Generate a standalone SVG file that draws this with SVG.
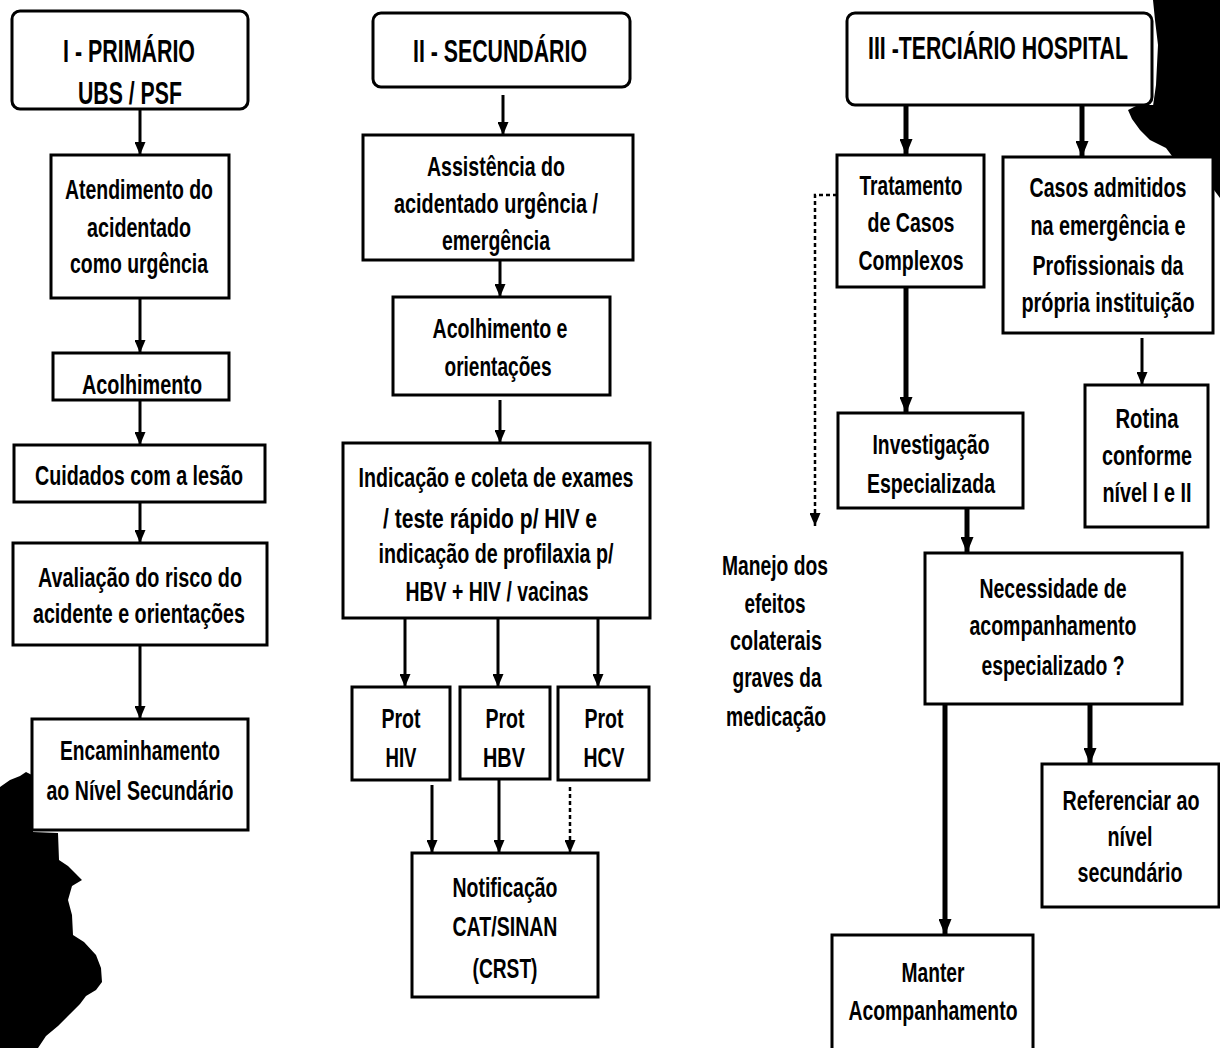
<svg xmlns="http://www.w3.org/2000/svg" width="1220" height="1048" viewBox="0 0 1220 1048">
<defs>
<style>
.box{fill:#fff;stroke:#000;stroke-width:3}
.t{font-family:'Liberation Sans Narrow','Liberation Sans',Arial,sans-serif;font-weight:bold;font-size:28px;text-anchor:middle;fill:#000}
.h{font-size:32px}
.ln{fill:none;stroke:#000;stroke-width:3;marker-end:url(#ah)}
.lt{fill:none;stroke:#000;stroke-width:5;marker-end:url(#ahb)}
.ld{fill:none;stroke:#000;stroke-width:2.5;stroke-dasharray:4 3;marker-end:url(#ah)}
.blob{fill:#000}
</style>
<marker id="ah" markerUnits="userSpaceOnUse" markerWidth="13" markerHeight="11" refX="13" refY="5.5" orient="auto"><path d="M0,0 L13,5.5 L0,11 Z" fill="#000"/></marker>
<marker id="ahb" markerUnits="userSpaceOnUse" markerWidth="16" markerHeight="13" refX="16" refY="6.5" orient="auto"><path d="M0,0 L16,6.5 L0,13 Z" fill="#000"/></marker>
</defs>
<rect width="1220" height="1048" fill="#fff"/>
<g id="scan-marks">
<path class="blob" d="M0,787 L10,780 L20,776 L26,772 L32,775 L33,832 L58,833 L59,860 L68,866 L76,874 L82,880 L72,886 L68,900 L72,915 L73,935 L84,942 L96,955 L101,968 L102,982 L96,990 L86,996 L80,1004 L70,1014 L58,1026 L46,1036 L38,1048 L0,1048 Z"/>
<path class="blob" d="M1153,0 L1220,0 L1220,106 L1153,106 L1156,85 L1158,45 L1155,20 Z"/>
<path class="blob" d="M1128,110 L1138,105 L1220,105 L1220,156 L1172,156 L1166,148 L1150,140 L1140,130 L1132,119 Z"/>
<path class="blob" d="M1214,155 L1220,155 L1220,198 L1214,190 Z"/>
</g>
<g id="connectors">
<path class="ln" d="M140,109 V155"/>
<path class="ln" d="M140,298 V353"/>
<path class="ln" d="M140,400 V445"/>
<path class="ln" d="M140,502 V543"/>
<path class="ln" d="M140,645 V719"/>
<path class="ln" d="M503,95 V135"/>
<path class="ln" d="M500,260 V297"/>
<path class="ln" d="M500,400 V443"/>
<path class="ln" d="M405,618 V687"/>
<path class="ln" d="M498,618 V687"/>
<path class="ln" d="M598,618 V687"/>
<path class="ln" d="M432,785 V853"/>
<path class="ln" d="M499,780 V853"/>
<path class="ld" d="M570,787 V853"/>
<path class="lt" d="M906,105 V155"/>
<path class="lt" d="M1082,105 V157"/>
<path class="lt" d="M906,287 V413"/>
<path class="ln" d="M1142,338 V385"/>
<path class="lt" d="M967,508 V553"/>
<path class="lt" d="M945,704 V935"/>
<path class="lt" d="M1090,704 V764"/>
<path class="ld" d="M837,195 H815 V526"/>
</g>
<g id="n-t1"><rect class="box" x="12" y="11" width="236" height="98" rx="8"/><g transform="scale(0.8 1)"><text class="t h" x="161.25" y="62" textLength="165" lengthAdjust="spacingAndGlyphs">I - PRIMÁRIO</text><text class="t h" x="162.5" y="104" textLength="130" lengthAdjust="spacingAndGlyphs">UBS / PSF</text></g></g>
<g id="n-atend"><rect class="box" x="51" y="155" width="178" height="143"/><g transform="scale(0.8 1)"><text class="t" x="173.75" y="199" textLength="185" lengthAdjust="spacingAndGlyphs">Atendimento do</text><text class="t" x="173.75" y="237" textLength="130" lengthAdjust="spacingAndGlyphs">acidentado</text><text class="t" x="173.75" y="273" textLength="172.5" lengthAdjust="spacingAndGlyphs">como urgência</text></g></g>
<g id="n-acol1"><rect class="box" x="53" y="353" width="176" height="47"/><g transform="scale(0.8 1)"><text class="t" x="177.5" y="394" textLength="150" lengthAdjust="spacingAndGlyphs">Acolhimento</text></g></g>
<g id="n-cuid"><rect class="box" x="14" y="445" width="251" height="57"/><g transform="scale(0.8 1)"><text class="t" x="173.75" y="485" textLength="260" lengthAdjust="spacingAndGlyphs">Cuidados com a lesão</text></g></g>
<g id="n-aval"><rect class="box" x="13" y="543" width="254" height="102"/><g transform="scale(0.8 1)"><text class="t" x="175" y="587" textLength="255" lengthAdjust="spacingAndGlyphs">Avaliação do risco do</text><text class="t" x="173.75" y="623" textLength="265" lengthAdjust="spacingAndGlyphs">acidente e orientações</text></g></g>
<g id="n-enc"><rect class="box" x="32" y="719" width="216" height="111"/><g transform="scale(0.8 1)"><text class="t" x="175" y="760" textLength="200" lengthAdjust="spacingAndGlyphs">Encaminhamento</text><text class="t" x="175" y="800" textLength="233.75" lengthAdjust="spacingAndGlyphs">ao Nível Secundário</text></g></g>
<g id="n-t2"><rect class="box" x="373" y="13" width="257" height="74" rx="8"/><g transform="scale(0.8 1)"><text class="t h" x="625" y="62" textLength="217.5" lengthAdjust="spacingAndGlyphs">II - SECUNDÁRIO</text></g></g>
<g id="n-assist"><rect class="box" x="363" y="135" width="270" height="125"/><g transform="scale(0.8 1)"><text class="t" x="620" y="176" textLength="172.5" lengthAdjust="spacingAndGlyphs">Assistência do</text><text class="t" x="620" y="213" textLength="255" lengthAdjust="spacingAndGlyphs">acidentado urgência /</text><text class="t" x="620" y="250" textLength="135" lengthAdjust="spacingAndGlyphs">emergência</text></g></g>
<g id="n-acol2"><rect class="box" x="393" y="297" width="217" height="98"/><g transform="scale(0.8 1)"><text class="t" x="625" y="338" textLength="168.75" lengthAdjust="spacingAndGlyphs">Acolhimento e</text><text class="t" x="622.5" y="376" textLength="133.75" lengthAdjust="spacingAndGlyphs">orientações</text></g></g>
<g id="n-indic"><rect class="box" x="343" y="443" width="307" height="175"/><g transform="scale(0.8 1)"><text class="t" x="620" y="487" textLength="343.75" lengthAdjust="spacingAndGlyphs">Indicação e coleta de exames</text><text class="t" x="612.5" y="528" textLength="267.5" lengthAdjust="spacingAndGlyphs">/ teste rápido p/ HIV  e</text><text class="t" x="620" y="563" textLength="293.75" lengthAdjust="spacingAndGlyphs">indicação de profilaxia p/</text><text class="t" x="621.25" y="601" textLength="228.75" lengthAdjust="spacingAndGlyphs">HBV + HIV / vacinas</text></g></g>
<g id="n-phiv"><rect class="box" x="352" y="687" width="98" height="93"/><g transform="scale(0.8 1)"><text class="t" x="501.25" y="728" textLength="48.75" lengthAdjust="spacingAndGlyphs">Prot</text><text class="t" x="501.25" y="767" textLength="38.75" lengthAdjust="spacingAndGlyphs">HIV</text></g></g>
<g id="n-phbv"><rect class="box" x="460" y="687" width="90" height="92"/><g transform="scale(0.8 1)"><text class="t" x="631.25" y="728" textLength="48.75" lengthAdjust="spacingAndGlyphs">Prot</text><text class="t" x="630" y="767" textLength="52.5" lengthAdjust="spacingAndGlyphs">HBV</text></g></g>
<g id="n-phcv"><rect class="box" x="558" y="687" width="91" height="93"/><g transform="scale(0.8 1)"><text class="t" x="755" y="728" textLength="48.75" lengthAdjust="spacingAndGlyphs">Prot</text><text class="t" x="755" y="767" textLength="51.25" lengthAdjust="spacingAndGlyphs">HCV</text></g></g>
<g id="n-notif"><rect class="box" x="412" y="853" width="186" height="144"/><g transform="scale(0.8 1)"><text class="t" x="631.25" y="897" textLength="131.25" lengthAdjust="spacingAndGlyphs">Notificação</text><text class="t" x="631.25" y="936" textLength="131.25" lengthAdjust="spacingAndGlyphs">CAT/SINAN</text><text class="t" x="631.25" y="978" textLength="81.25" lengthAdjust="spacingAndGlyphs">(CRST)</text></g></g>
<g id="n-t3"><rect class="box" x="847" y="13" width="305" height="92" rx="8"/><g transform="scale(0.8 1)"><text class="t h" x="1247.5" y="59" textLength="325" lengthAdjust="spacingAndGlyphs">III -TERCIÁRIO HOSPITAL</text></g></g>
<g id="n-trat"><rect class="box" x="837" y="155" width="147" height="132"/><g transform="scale(0.8 1)"><text class="t" x="1138.75" y="195" textLength="128.75" lengthAdjust="spacingAndGlyphs">Tratamento</text><text class="t" x="1138.75" y="232" textLength="108.75" lengthAdjust="spacingAndGlyphs">de Casos</text><text class="t" x="1138.75" y="270" textLength="131.25" lengthAdjust="spacingAndGlyphs">Complexos</text></g></g>
<g id="n-casos"><rect class="box" x="1003" y="157" width="210" height="176"/><g transform="scale(0.8 1)"><text class="t" x="1385" y="197" textLength="196.25" lengthAdjust="spacingAndGlyphs">Casos admitidos</text><text class="t" x="1385" y="235" textLength="193.75" lengthAdjust="spacingAndGlyphs">na emergência e</text><text class="t" x="1385" y="275" textLength="188.75" lengthAdjust="spacingAndGlyphs">Profissionais da</text><text class="t" x="1385" y="312" textLength="216.25" lengthAdjust="spacingAndGlyphs">própria instituição</text></g></g>
<g id="n-rotina"><rect class="box" x="1085" y="385" width="123" height="142"/><g transform="scale(0.8 1)"><text class="t" x="1433.75" y="428" textLength="78.75" lengthAdjust="spacingAndGlyphs">Rotina</text><text class="t" x="1433.75" y="465" textLength="112.5" lengthAdjust="spacingAndGlyphs">conforme</text><text class="t" x="1433.75" y="502" textLength="111.25" lengthAdjust="spacingAndGlyphs">nível I e II</text></g></g>
<g id="n-invest"><rect class="box" x="838" y="413" width="185" height="95"/><g transform="scale(0.8 1)"><text class="t" x="1163.75" y="454" textLength="146.25" lengthAdjust="spacingAndGlyphs">Investigação</text><text class="t" x="1163.75" y="493" textLength="160" lengthAdjust="spacingAndGlyphs">Especializada</text></g></g>
<g id="n-manejo"><g transform="scale(0.8 1)"><text class="t" x="968.75" y="575" textLength="132.5" lengthAdjust="spacingAndGlyphs">Manejo dos</text><text class="t" x="968.75" y="613" textLength="76.25" lengthAdjust="spacingAndGlyphs">efeitos</text><text class="t" x="970" y="650" textLength="115" lengthAdjust="spacingAndGlyphs">colaterais</text><text class="t" x="971.25" y="687" textLength="111.25" lengthAdjust="spacingAndGlyphs">graves da</text><text class="t" x="970" y="726" textLength="125" lengthAdjust="spacingAndGlyphs">medicação</text></g></g>
<g id="n-nec"><rect class="box" x="925" y="553" width="257" height="151"/><g transform="scale(0.8 1)"><text class="t" x="1316.25" y="598" textLength="183.75" lengthAdjust="spacingAndGlyphs">Necessidade de</text><text class="t" x="1316.25" y="635" textLength="208.75" lengthAdjust="spacingAndGlyphs">acompanhamento</text><text class="t" x="1316.25" y="675" textLength="178.75" lengthAdjust="spacingAndGlyphs">especializado ?</text></g></g>
<g id="n-ref"><rect class="box" x="1042" y="764" width="177" height="143"/><g transform="scale(0.8 1)"><text class="t" x="1413.75" y="810" textLength="171.25" lengthAdjust="spacingAndGlyphs">Referenciar ao</text><text class="t" x="1412.5" y="846" textLength="56.25" lengthAdjust="spacingAndGlyphs">nível</text><text class="t" x="1412.5" y="882" textLength="131.25" lengthAdjust="spacingAndGlyphs">secundário</text></g></g>
<g id="n-manter"><rect class="box" x="832" y="935" width="201" height="125"/><g transform="scale(0.8 1)"><text class="t" x="1166.25" y="982" textLength="78.75" lengthAdjust="spacingAndGlyphs">Manter</text><text class="t" x="1166.25" y="1020" textLength="211.25" lengthAdjust="spacingAndGlyphs">Acompanhamento</text></g></g>
</svg>
